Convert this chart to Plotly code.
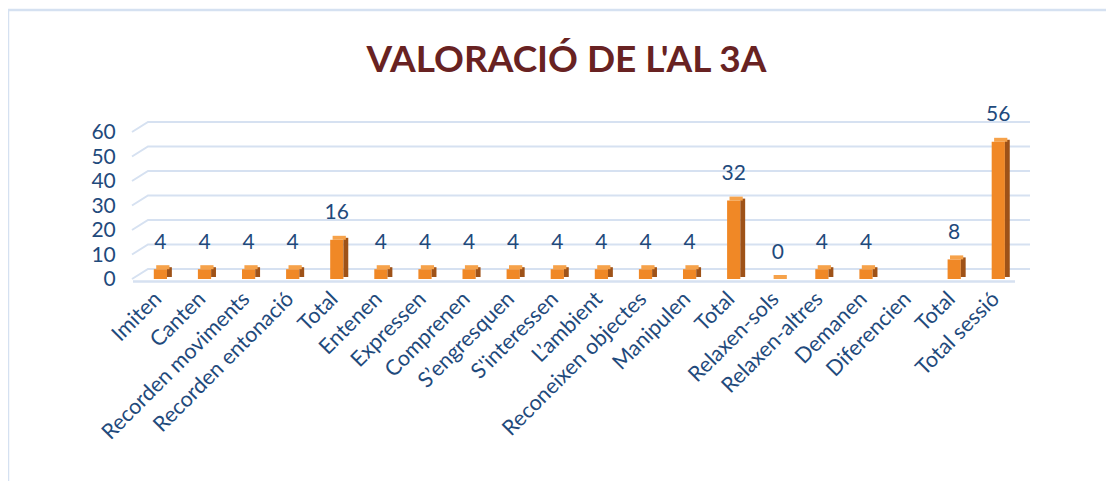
import plotly.graph_objects as go

categories = ["Imiten", "Canten", "Recorden moviments", "Recorden entonació", "Total",
              "Entenen", "Expressen", "Comprenen", "S’engresquen", "S'interessen",
              "L’ambient", "Reconeixen objectes", "Manipulen", "Total",
              "Relaxen-sols", "Relaxen-altres", "Demanen", "Diferencien", "Total", "Total sessió"]
values = [4, 4, 4, 4, 16, 4, 4, 4, 4, 4, 4, 4, 4, 32, 0, 4, 4, None, 8, 56]
y_ticks = [0, 10, 20, 30, 40, 50, 60]

OFF = 8                   # page body margin
W, H = 1114 - OFF, 481 - OFF
# plot area in page pixels
PL, PR, PT, PB = 141, 1023, 110, 281
PX_PER_UNIT = 2.45
ZERO_PIX = 279            # bar baseline (page px)
GRID_ZERO_PIX = 269       # back-wall gridline for 0 (page px)

L, R, T, B = PL - OFF, PR - OFF, PT - OFF, PB - OFF
y0 = -(PB - ZERO_PIX) / PX_PER_UNIT
y1 = (ZERO_PIX - PT) / PX_PER_UNIT

x = list(range(len(categories)))
xv = [xi for xi, v in zip(x, values) if v is not None]
vv = [v for v in values if v is not None]
depth = 4 / PX_PER_UNIT

front_col = "#F08826"
side_col = "#9E5218"
top_col = "#F6A24A"
text_col = "#1F4A7C"
grid_col = "#D6E1F1"
font = "Lato, 'Open Sans', sans-serif"

fig = go.Figure()
# front faces
fig.add_trace(go.Bar(x=xv, y=vv, width=0.30, offset=-0.21,
                     marker=dict(color=front_col, line=dict(width=0)),
                     hoverinfo="skip", showlegend=False))
# side faces
fig.add_trace(go.Bar(x=xv, y=vv, base=[depth * 0.5] * len(vv), width=0.11, offset=0.09,
                     marker=dict(color=side_col, line=dict(width=0)),
                     hoverinfo="skip", showlegend=False))
# top faces
fig.add_trace(go.Bar(x=xv, y=[depth] * len(vv), base=vv, width=0.30, offset=-0.155,
                     marker=dict(color=top_col, line=dict(width=0)),
                     hoverinfo="skip", showlegend=False))
# data labels
fig.add_trace(go.Scatter(x=[xi - 0.06 for xi in xv], y=[v + 10.5 for v in vv],
                         text=[str(v) for v in vv], mode="text",
                         textposition="middle center",
                         textfont=dict(family=font, size=21, color=text_col),
                         cliponaxis=False, hoverinfo="skip", showlegend=False))

def px_x(p):
    return (p - PL) / (PR - PL)

def px_y(p):
    return (PB - p) / (PB - PT)

shapes = []
# outer frame
shapes.append(dict(type="rect", xref="paper", yref="paper",
                   x0=px_x(8), x1=px_x(1130), y0=px_y(500), y1=px_y(10),
                   line=dict(color="#D5E1F1", width=2.5), layer="below"))
# back-wall gridlines with their left-side 3D stubs
for t in y_ticks:
    gy = GRID_ZERO_PIX - t * PX_PER_UNIT
    shapes.append(dict(type="path", xref="paper", yref="paper",
                       path=f"M {px_x(132)},{px_y(gy + 10)} L {px_x(148)},{px_y(gy)} L {px_x(1030)},{px_y(gy)}",
                       line=dict(color=grid_col, width=2), layer="below"))
# front floor edge
shapes.append(dict(type="line", xref="paper", yref="paper",
                   x0=px_x(133), x1=px_x(1015), y0=px_y(281.5), y1=px_y(281.5),
                   line=dict(color=grid_col, width=2.5), layer="below"))

fig.update_layout(
    width=W, height=H,
    margin=dict(l=L, r=W - R, t=T, b=H - B),
    paper_bgcolor="white", plot_bgcolor="rgba(0,0,0,0)",
    barmode="overlay",
    title=dict(text="<b>VALORACIÓ DE L'AL 3A</b>", x=((366 + 767) / 2 - OFF) / W, xanchor="center",
               y=1 - (59 - OFF) / H, yanchor="middle", yref="container",
               font=dict(family=font, size=37, color="#682222")),
    xaxis=dict(range=[-0.5, len(categories) - 0.5], tickmode="array", tickvals=x,
               ticktext=categories, tickangle=-45, showgrid=False, zeroline=False,
               showline=False, ticks="", ticklabelshift=-8,
               tickfont=dict(family=font, size=21.5, color=text_col)),
    yaxis=dict(range=[y0, y1], tickmode="array", tickvals=y_ticks, showgrid=False,
               zeroline=False, showline=False, ticks="outside", ticklen=20,
               tickcolor="rgba(0,0,0,0)",
               tickfont=dict(family=font, size=21, color=text_col)),
    shapes=shapes,
)

fig.write_html("out.html")
